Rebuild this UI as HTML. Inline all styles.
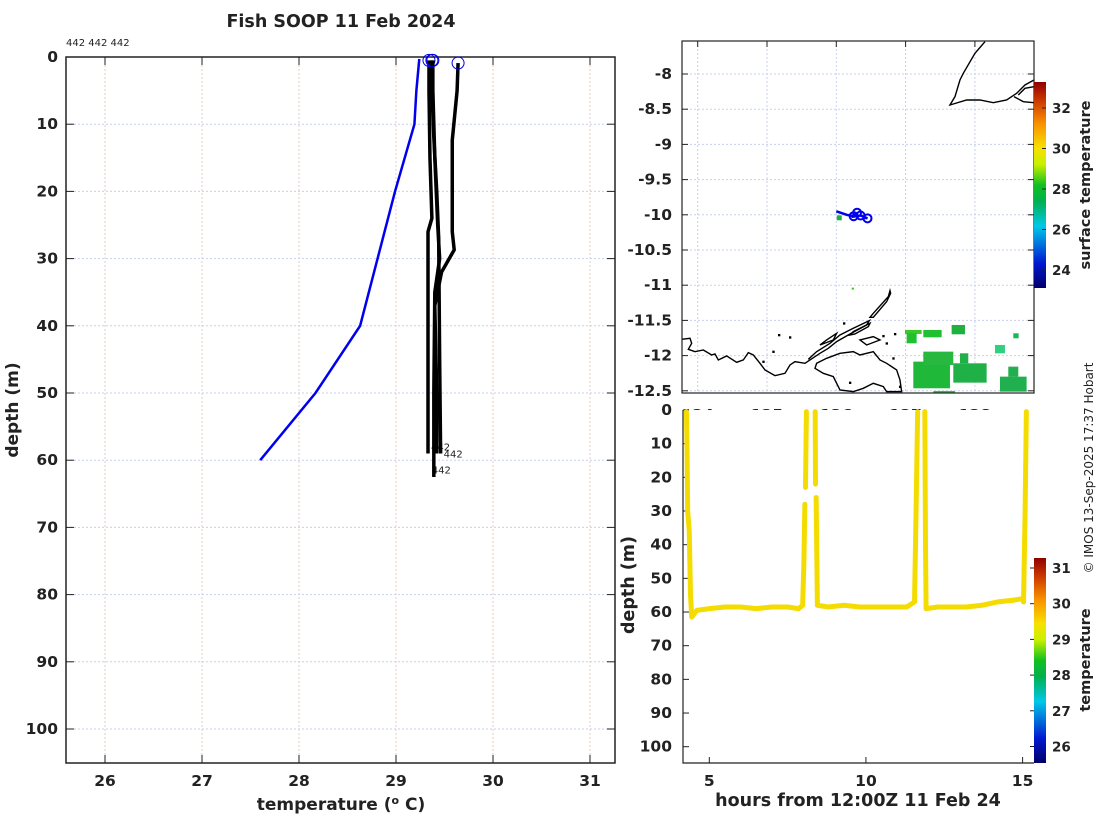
<!DOCTYPE html>
<html><head><meta charset="utf-8"><style>
body{margin:0;background:#fff}
svg{display:block}
text{font-family:"DejaVu Sans","Liberation Sans",sans-serif;fill:#222}
.tk{font-size:15.5px;font-weight:bold}
.lb{font-size:16.5px;font-weight:bold}
</style></head><body>
<svg id="s" width="1100" height="820" xmlns="http://www.w3.org/2000/svg">
<defs>
<linearGradient id="cmap" x1="0" y1="1" x2="0" y2="0">
<stop offset="0" stop-color="#00006a"/><stop offset="0.12" stop-color="#0018d0"/><stop offset="0.3" stop-color="#00c8e8"/>
<stop offset="0.42" stop-color="#00b050"/><stop offset="0.5" stop-color="#10c020"/><stop offset="0.6" stop-color="#c8f000"/>
<stop offset="0.68" stop-color="#f8e000"/><stop offset="0.8" stop-color="#f89000"/><stop offset="0.9" stop-color="#d04000"/><stop offset="1" stop-color="#900000"/>
</linearGradient>
</defs>
<text x="341" y="27" text-anchor="middle" class="lb" style="font-size:17.5px">Fish SOOP 11 Feb 2024</text>
<text x="66" y="46" style="font-size:10px">442 442 442</text>
<g id="gL"></g>
<g id="gM"></g>
<g id="gB"></g>
<text transform="translate(1093,468) rotate(-90)" text-anchor="middle" style="font-size:12px">© IMOS 13-Sep-2025 17:37 Hobart</text>
</svg>
<script>
// ---------- data ----------
const profTickTemps=[26,27,28,29,30,31];
const depthTicks=[0,10,20,30,40,50,60,70,80,90,100];
const blueTemps=[29.24,29.21,29.19,28.99,28.63,28.17,27.6];
const blueDepths=[0.3,5,10,20,40,50,60];
const p1Temps=[29.34,29.34,29.35,29.37,29.33,29.33,29.33];
const p1Depths=[0.5,5,15,24,26,40,59];
const p2Temps=[29.37,29.37,29.39,29.42,29.44,29.45,29.46];
const p2Depths=[0.5,5,12,20,27,45,59];
const p3Temps=[29.64,29.63,29.58,29.58,29.6,29.47,29.40,29.42,29.42];
const p3Depths=[0.9,5,12.4,26,28.7,32,37,50,59];
const p4Temps=[29.38,29.38,29.40,29.43,29.45,29.40,29.39,29.39];
const p4Depths=[0.5,5,15,25,30,35,50,62.5];
const lonTicks=[124,125,126,127,128];
const latTicks=[-8,-8.5,-9,-9.5,-10,-10.5,-11,-11.5,-12,-12.5];
const trackLons=[126.0,126.15,126.25,126.3,126.22,126.35,126.45,126.4];
const trackLats=[-9.95,-10.0,-10.02,-9.97,-10.03,-10.01,-10.05,-10.04];
const cb1Ticks=[24,26,28,30,32];
const hourTicks=[5,10,15];
const secHours=[4.27,4.29,4.31,4.36,4.40,4.44,4.6,5.0,5.5,6.0,6.5,7.0,7.5,7.85,7.98,8.02,8.05,null,8.07,8.1,null,8.38,8.39,null,8.41,8.45,8.8,9.3,9.8,10.3,10.8,11.3,11.55,11.6,11.65,null,11.88,11.9,11.92,12.3,12.8,13.2,13.7,14.2,14.7,15.0,15.03,15.08,15.12];
const secDepths=[0.5,12,30,36,55,61.5,59.5,59,58.5,58.5,59,58.5,58.5,59,58,45,28,null,23,0.5,null,0.5,22,null,26,58,58.5,58,58.5,58.5,58.5,58.5,57,30,0.5,null,0.5,40,59,58.5,58.5,58.5,58,57,56.5,56,57,30,0.5];
const cb2Ticks=[26,27,28,29,30,31];

const NS="http://www.w3.org/2000/svg";
function mk(p,tag,at,txt){const e=document.createElementNS(NS,tag);for(const k in at)e.setAttribute(k,at[k]);if(txt!==undefined)e.textContent=txt;p.appendChild(e);return e;}

// ---------- left profile plot ----------
const xT=t=>105+(t-26)*97;
const yD=d=>57+d*6.72;
const gL=document.getElementById('gL');
const L0=66,L1=615,T0=57,T1=763;
profTickTemps.forEach(t=>{let l=mk(gL,'line',{x1:xT(t),x2:xT(t),y1:T0,y2:T1,stroke:'#e6cfc0','stroke-dasharray':'2,2','stroke-width':1});

mk(gL,'line',{x1:xT(t),x2:xT(t),y1:T1,y2:T1-8,stroke:'#222'});mk(gL,'line',{x1:xT(t),x2:xT(t),y1:T0,y2:T0+8,stroke:'#222'});
let tx=mk(gL,'text',{x:xT(t),y:786,'text-anchor':'middle',class:'tk'},String(t));
});
depthTicks.forEach(d=>{let l=mk(gL,'line',{x1:L0,x2:L1,y1:yD(d),y2:yD(d),stroke:'#c8d0ee','stroke-dasharray':'2,2','stroke-width':1});

mk(gL,'line',{x1:L0,x2:L0+8,y1:yD(d),y2:yD(d),stroke:'#222'});mk(gL,'line',{x1:L1,x2:L1-8,y1:yD(d),y2:yD(d),stroke:'#222'});
let tx=mk(gL,'text',{x:58,y:yD(d)+5,'text-anchor':'end',class:'tk'},String(d));
});
let fr=mk(gL,'rect',{x:L0,y:T0,width:L1-L0,height:T1-T0,fill:'none',stroke:'#222','stroke-width':1.5});

function poly(g,xs,ys,fx,fy,attrs,name){const pts=xs.map((v,i)=>fx(v)+','+fy(ys[i])).join(' ');const e=mk(g,'polyline',Object.assign({points:pts,fill:'none'},attrs));return e;}
poly(gL,blueTemps,blueDepths,xT,yD,{stroke:'#0000ee','stroke-width':2.5},'climatology-line');
[[p1Temps,p1Depths],[p2Temps,p2Depths],[p3Temps,p3Depths],[p4Temps,p4Depths]].forEach(([a,b],i)=>{
poly(gL,a,b,xT,yD,{stroke:'#000','stroke-width':3.5,'stroke-linejoin':'round'},'profile-line-'+(i+1));
let c=mk(gL,'circle',{cx:xT(a[0]),cy:yD(b[0]),r:6,fill:'none',stroke:'#0000ee','stroke-width':1});

if(i<3){let t=mk(gL,'text',{x:xT(a[a.length-1])+3+(i==2?-8:0),y:yD(b[b.length-1])+(i==0?-3:(i==1?4:20)),style:'font-size:10px'},'442');
}
});
let xl=mk(gL,'text',{x:341,y:810,'text-anchor':'middle',class:'lb',style:'font-size:17px'});
xl.innerHTML='temperature (<tspan dy="-6" style="font-size:11px">o</tspan><tspan dy="6"> C)</tspan>';

let yl=mk(gL,'text',{transform:'translate(18,410) rotate(-90)','text-anchor':'middle',class:'lb',style:'font-size:17px'},'depth (m)');


// ---------- map ----------
const xLon=l=>697.7+(l-124)*69.3;
const yLat=a=>74+(-8-a)*70.4;
const gM=document.getElementById('gM');
const M0=682,M1=1034,N0=41,N1=393;
lonTicks.forEach(l=>{let g=mk(gM,'line',{x1:xLon(l),x2:xLon(l),y1:N0,y2:N1,stroke:'#c8d0ee','stroke-dasharray':'2,2'});

mk(gM,'line',{x1:xLon(l),x2:xLon(l),y1:N0,y2:N0+6,stroke:'#222'});
let t=mk(gM,'text',{x:xLon(l),y:420,'text-anchor':'middle',class:'tk'},String(l));
});
latTicks.forEach(a=>{let g=mk(gM,'line',{x1:M0,x2:M1,y1:yLat(a),y2:yLat(a),stroke:'#c8d0ee','stroke-dasharray':'2,2'});

mk(gM,'line',{x1:M0,x2:M0+6,y1:yLat(a),y2:yLat(a),stroke:'#222'});mk(gM,'line',{x1:M1,x2:M1-6,y1:yLat(a),y2:yLat(a),stroke:'#222'});
let t=mk(gM,'text',{x:672,y:yLat(a)+5,'text-anchor':'end',class:'tk'},String(a));
});
const cz=mk(gM,'g',{transform:'translate(620,30) scale(0.3333)'});

const green=[[855,900,50,12,'#3cc828'],[860,910,30,30,'#20c030'],[910,900,55,22,'#20c030'],[995,885,40,28,'#20b040'],[880,995,110,80,'#20b838'],[910,965,90,40,'#28b840'],[1000,1000,100,58,'#20b048'],[1020,970,25,30,'#20b048'],[1140,1040,80,45,'#20b050'],[1165,1010,30,30,'#20b050'],[1180,910,16,15,'#18b858'],[940,1083,65,5,'#30c040'],[1125,945,30,25,'#30d080']];
green.forEach(g=>mk(cz,'rect',{x:g[0],y:g[1],width:g[2],height:g[3],fill:g[4]}));
mk(cz,'rect',{x:695,y:773,width:7,height:6,fill:'#40d020'});
const cs={fill:'none',stroke:'#000','stroke-width':1.4,'vector-effect':'non-scaling-stroke'};
[
'M1095,35 L1065,70 L1030,130 L1020,150 L1005,200 L990,225 L1040,210 L1080,210 L1120,218 L1160,210 L1190,190 L1215,165 L1242,150',
'M1182,200 L1210,215 L1242,218 M1195,195 L1215,175 L1242,170',
'M185,928 L210,925 L215,940 L205,958 L225,965 L250,960 L275,975 L285,972 L295,990 L320,978 L350,997 L370,990 L385,968 L400,975 L420,1000 L435,1020 L465,1037 L495,1030 L510,1005 L525,995 L555,1000 L570,990 L600,970 L625,955 L650,935 L690,912 L740,885 L748,872 L700,895 L660,915 L630,940 L590,965 L565,988',
'M810,782 L805,800 L760,850 L750,862 L760,862 L800,815 L812,790 Z',
'M750,880 L700,905 L690,915 L705,912 L745,890 Z',
'M590,1000 L620,985 L660,970 L700,965 L720,975 L760,965 L780,990 L800,1000 L830,1020 L840,1050 L845,1085 L800,1085 L790,1070 L760,1060 L730,1075 L700,1085 L660,1080 L650,1060 L640,1040 L610,1030 L585,1015 Z',
'M650,910 L620,930 L600,945 L640,930 Z','M720,930 L760,920 L780,930 L740,945 Z'
].forEach(d=>mk(cz,'path',Object.assign({d:d},cs)));
[[477,915],[510,922],[672,880],[825,912],[790,918],[800,940],[690,1058],[820,985],[840,1070],[460,965],[430,995]].forEach(p=>mk(cz,'rect',{x:p[0]-3,y:p[1]-3,width:7,height:7,fill:'#000'}));
mk(gM,'rect',{x:xLon(126.05)-3,y:yLat(-10.05)-3,width:5,height:5,fill:'#20b040'});
poly(gM,trackLons,trackLats,xLon,yLat,{stroke:'#0000ee','stroke-width':2.5},'ship-track');
[2,3,5,6].forEach(i=>{let c=mk(gM,'circle',{cx:xLon(trackLons[i]),cy:yLat(trackLats[i]),r:4,fill:'none',stroke:'#0000ee','stroke-width':2});
});
let mf=mk(gM,'rect',{x:M0,y:N0,width:M1-M0,height:N1-N0,fill:'none',stroke:'#222','stroke-width':1.2});

const c1y=t=>108+(32-t)*20.25;
let cb1=mk(gM,'rect',{x:1034,y:82,width:12,height:206,fill:'url(#cmap)'});

cb1Ticks.forEach(t=>{mk(gM,'line',{x1:1046,x2:1042,y1:c1y(t),y2:c1y(t),stroke:'#222'});
let tx=mk(gM,'text',{x:1052,y:c1y(t)+5,class:'tk',style:'font-size:13.5px'},String(t));
});
let st=mk(gM,'text',{transform:'translate(1090,185) rotate(-90)','text-anchor':'middle',class:'lb',style:'font-size:14.5px'},'surface temperature');


// ---------- bottom section plot ----------
const xH=h=>709.3+(h-5)*31.33;
const yB=d=>410+d*3.367;
const gB=document.getElementById('gB');
mk(gB,'rect',{x:682,y:410,width:352,height:353,fill:'#fff'});
depthTicks.forEach(d=>{mk(gB,'line',{x1:683,x2:689,y1:yB(d),y2:yB(d),stroke:'#222'});
let t=mk(gB,'text',{x:672,y:yB(d)+5,'text-anchor':'end',class:'tk'},String(d));
});
hourTicks.forEach(h=>{mk(gB,'line',{x1:xH(h),x2:xH(h),y1:763,y2:757,stroke:'#222'});
let t=mk(gB,'text',{x:xH(h),y:786,'text-anchor':'middle',class:'tk'},String(h));
});
let seg=[];const segs=[];
secHours.forEach((h,i)=>{if(h===null){segs.push(seg);seg=[];}else seg.push([h,secDepths[i]]);});segs.push(seg);
segs.forEach(s=>{if(s.length<2)return;poly(gB,s.map(p=>p[0]),s.map(p=>p[1]),xH,yB,{stroke:'#f5dc00','stroke-width':5,'stroke-linecap':'round','stroke-linejoin':'round'},'temperature-trace');});
mk(gB,'path',{d:'M683,410 L683,763 L1034,763',fill:'none',stroke:'#222','stroke-width':1.2});
const c2y=t=>568+(31-t)*35.7;
let cb2=mk(gB,'rect',{x:1034,y:558,width:12,height:205,fill:'url(#cmap)'});

cb2Ticks.forEach(t=>{mk(gB,'line',{x1:1034,x2:1030,y1:c2y(t),y2:c2y(t),stroke:'#222'});
let tx=mk(gB,'text',{x:1052,y:c2y(t)+5,class:'tk',style:'font-size:13.5px'},String(t));
});
let t2=mk(gB,'text',{transform:'translate(1090,660) rotate(-90)','text-anchor':'middle',class:'lb',style:'font-size:14.5px'},'temperature');

let bx=mk(gB,'text',{x:858,y:806,'text-anchor':'middle',class:'lb',style:'font-size:17.5px'},'hours from 12:00Z 11 Feb 24');

let by=mk(gB,'text',{transform:'translate(634,585) rotate(-90)','text-anchor':'middle',class:'lb',style:'font-size:17.5px'},'depth (m)');

</script>
</body></html>
